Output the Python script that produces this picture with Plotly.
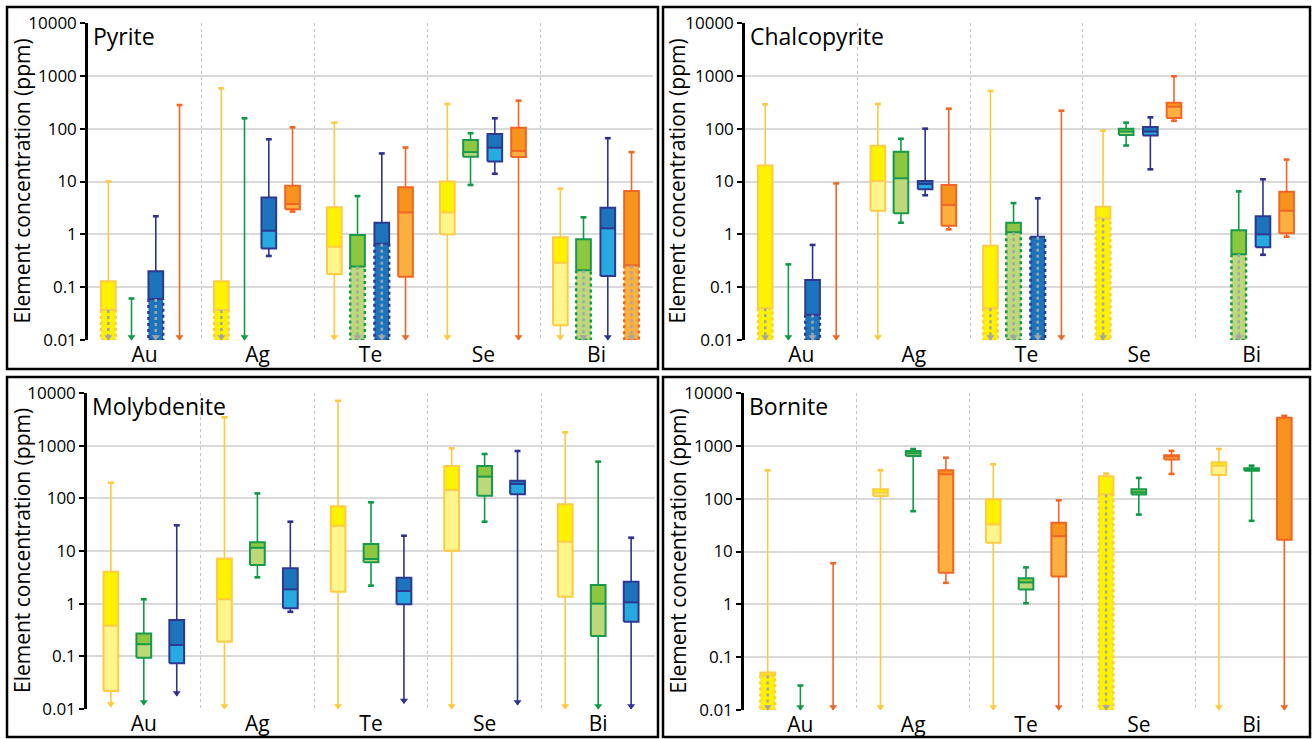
import plotly.graph_objects as go

# ---------------- data ----------------
ELEMENTS = ["Au", "Ag", "Te", "Se", "Bi"]
TICK_VALS = [0.01, 0.1, 1, 10, 100, 1000, 10000]
TICK_TEXT = ["0.01", "0.1", "1", "10", "100", "1000", "10000"]
MINERALS = ["Pyrite", "Chalcopyrite", "Molybdenite", "Bornite"]
Y_TITLE = "Element concentration (ppm)"

# series order per panel
PY_SERIES = ["yellow", "green", "blue", "orange"]
CP_SERIES = ["yellow", "green", "blue", "orange"]
MO_SERIES = ["yellow", "green", "blue"]
BN_SERIES = ["yellow", "green", "orange"]

# Pyrite (rows = series, cols = Au, Ag, Te, Se, Bi)
PY_MAX = [[10, 580, 130, 293, 7.3], [0.061, 157, 5.3, 82, 2.1], [2.2, 63, 34, 157, 66], [280, 106, 44, 339, 36]]
PY_Q3 = [[0.13, 0.13, 3.24, 10, 0.88], [None, None, 0.97, 61, 0.81], [0.2, 5.0, 1.66, 79, 3.2], [None, 8.3, 7.8, 104, 6.6]]
PY_MED = [[0.01, 0.01, 0.58, 2.6, 0.29], [None, None, 0.245, 36, 0.21], [0.01, 1.17, 0.01, 43.6, 1.3], [None, 3.75, 2.6, 38, 0.26]]
PY_Q1 = [[0.01, 0.01, 0.177, 1.0, 0.019], [None, None, 0.01, 29.5, 0.01], [0.01, 0.54, 0.01, 24, 0.163], [None, 2.97, 0.158, 29, 0.01]]
PY_MIN = [[0.01, 0.01, 0.01, 0.01, 0.01], [0.01, 0.01, 0.01, 8.6, 0.01], [0.01, 0.39, 0.01, 14, 0.01], [0.01, 2.7, 0.01, 0.01, 0.01]]
PY_DL = [[0.037, 0.037, None, None, None], [None, None, 0.245, None, 0.21], [0.06, None, 0.66, None, None], [None, None, None, None, 0.26]]

# Chalcopyrite
CP_MAX = [[289, 293, 517, 92, None], [0.27, 64.5, 3.9, 130, 6.5], [0.63, 100, 4.8, 164, 11], [9.2, 239, 219, 980, 26]]
CP_Q3 = [[20, 47.6, 0.61, 3.33, None], [None, 36.6, 1.66, 100, 1.2], [0.136, 10.2, 0.93, 107, 2.2], [None, 8.6, None, 310, 6.4]]
CP_MED = [[0.01, 10.2, 0.01, 0.01, None], [None, 11.5, 1.09, 88, 0.42], [0.01, 9.0, 0.01, 88, 1.0], [None, 3.6, None, 260, 2.8]]
CP_Q1 = [[0.01, 2.8, 0.01, 0.01, None], [None, 2.5, 0.01, 76, 0.01], [0.01, 7.1, 0.01, 74, 0.57], [None, 1.46, None, 159, 1.05]]
CP_MIN = [[0.01, 0.01, 0.01, 0.01, None], [0.01, 1.66, 0.01, 48, 0.01], [0.01, 5.5, 0.01, 17, 0.41], [0.01, 1.24, 0.01, 141, 0.9]]
CP_DL = [[0.04, None, 0.04, 2.0, None], [None, None, 1.09, None, 0.42], [0.03, None, 0.9, None, None], [None, None, None, None, None]]

# Molybdenite
MO_MAX = [[198, 3450, 7100, 890, 1790], [1.21, 124, 84, 695, 497], [30.8, 36, 19.5, 792, 17.9]]
MO_Q3 = [[4.05, 7.2, 71, 411, 77], [0.27, 14.6, 13.6, 411, 2.26], [0.49, 4.7, 3.1, 216, 2.6]]
MO_MED = [[0.38, 1.21, 30, 144, 15], [0.17, 11.5, 7.05, 258, 1.0], [0.164, 1.87, 1.74, 187, 1.06]]
MO_Q1 = [[0.022, 0.19, 1.69, 10.1, 1.36], [0.094, 5.4, 6.1, 112, 0.243], [0.074, 0.82, 0.98, 119, 0.455]]
MO_MIN = [[0.011, 0.01, 0.01, 0.01, 0.01], [0.012, 3.16, 2.2, 36, 0.01], [0.0177, 0.7, 0.0128, 0.012, 0.01]]
MO_DL = [[None] * 5, [None] * 5, [None] * 5]

# Bornite
BN_MAX = [[345, 345, 449, 298, 870], [0.029, 870, 5.0, 247, 421], [6.0, 596, 93, 803, 3700]]
BN_Q3 = [[0.051, 150, 97, 265, 487], [None, 800, 3.1, 150, 376], [None, 345, 35, 665, 3400]]
BN_MED = [[0.01, 130, 32.6, 0.01, 421], [None, 720, 2.6, 132, 360], [None, 290, 19.5, 630, 16.7]]
BN_Q1 = [[0.01, 112, 14.6, 0.01, 280], [None, 640, 1.9, 120, 338], [None, 3.95, 3.36, 550, 16.7]]
BN_MIN = [[0.01, 0.01, 0.01, 0.01, 0.01], [0.01, 58, 1.05, 50, 38], [0.01, 2.55, 0.01, 294, 0.01]]
BN_DL = [[0.045, None, None, 120, None], [None] * 5, [None] * 5]

# ---------------- style ----------------
PALETTE = {
    "yellow": dict(wh="#FFC93C", bd="#FFCB45", up="#FFF200", lo="#FFF58A"),
    "green": dict(wh="#0E9A47", bd="#179A4A", up="#8DC63F", lo="#BCD879"),
    "blue": dict(wh="#2E3192", bd="#2B3990", up="#1C75BC", lo="#27AAE1"),
    "orange": dict(wh="#F26522", bd="#F26522", up="#F7941D", lo="#FBB040"),
}
GRAY = "#A3A5A8"
OFFS = {4: [-0.32, -0.115, 0.10, 0.31], 3: [-0.29, 0.0, 0.29]}
BW = 0.065      # box half width (category units)
CAP = 0.026     # cap half width
ARROW_LIFT = 10 ** 0.055
FONT = "Open Sans"

# panel geometry (pixels of the 1312x739 page)
W, H = 1312, 739
PLOT_PX = [(88, 653, 23, 340), (745, 1308, 23, 340), (87, 655, 393, 709), (744, 1308, 393, 710)]
BORDER_PX = [(7, 658, 7, 369), (663, 1310, 7, 369), (7, 658, 377, 737), (663, 1310, 377, 737)]
YTITLE_X = [22, 677, 22, 677]

PANELS = [
    (PY_SERIES, PY_MAX, PY_Q3, PY_MED, PY_Q1, PY_MIN, PY_DL),
    (CP_SERIES, CP_MAX, CP_Q3, CP_MED, CP_Q1, CP_MIN, CP_DL),
    (MO_SERIES, MO_MAX, MO_Q3, MO_MED, MO_Q1, MO_MIN, MO_DL),
    (BN_SERIES, BN_MAX, BN_Q3, BN_MED, BN_Q1, BN_MIN, BN_DL),
]

fig = go.Figure()


def rect(xs, ys, x0, x1, y0, y1):
    xs += [x0, x1, x1, x0, x0, None]
    ys += [y0, y0, y1, y1, y0, None]


for k, (series, MX, Q3, MD, Q1, MN, DL) in enumerate(PANELS, start=1):
    xa = "x" if k == 1 else f"x{k}"
    ya = "y" if k == 1 else f"y{k}"
    offs = OFFS[len(series)]
    for s, key in enumerate(series):
        c = PALETTE[key]
        wx, wy, cx, cy, ax_, ay_ = [], [], [], [], [], []
        lox, loy, upx, upy = [], [], [], []
        sx, sy, dx, dy, mx, my = [], [], [], [], [], []
        gx, gy, gax, gay = [], [], [], []
        for e in range(len(ELEMENTS)):
            if MX[s][e] is None:
                continue
            x = e + offs[s]
            vmin, vmax = MN[s][e], MX[s][e]
            wx += [x, x, None]
            wy += [vmin, vmax, None]
            cx += [x - CAP, x + CAP, None]
            cy += [vmax, vmax, None]
            if vmin < 0.02:
                ax_.append(x)
                ay_.append(vmin * ARROW_LIFT)
            else:
                cx += [x - CAP, x + CAP, None]
                cy += [vmin, vmin, None]
            q3 = Q3[s][e]
            if q3 is None:
                continue
            med, q1, dl = MD[s][e], Q1[s][e], DL[s][e]
            x0, x1 = x - BW, x + BW
            if med > q1:
                rect(lox, loy, x0, x1, q1, med)
            rect(upx, upy, x0, x1, med, q3)
            solid_lo = dl if dl is not None else q1
            rect(sx, sy, x0, x1, solid_lo, q3)
            if dl is not None:
                dx += [x0, x0, x1, x1, None]
                dy += [dl, q1, q1, dl, None]
                gx += [x, x, None]
                gy += [dl, q1, None]
                gax.append(x)
                gay.append(q1 * ARROW_LIFT)
            if q1 < med < q3 and med != dl:
                mx += [x0, x1, None]
                my += [med, med, None]

        common = dict(xaxis=xa, yaxis=ya, hoverinfo="skip", showlegend=False)
        fig.add_trace(go.Scatter(x=wx, y=wy, mode="lines", line=dict(color=c["wh"], width=1.6), **common))
        fig.add_trace(go.Scatter(x=cx, y=cy, mode="lines", line=dict(color=c["wh"], width=2.6), **common))
        if ax_:
            fig.add_trace(go.Scatter(x=ax_, y=ay_, mode="markers", cliponaxis=False,
                                     marker=dict(symbol="triangle-down", size=7, color=c["wh"]), **common))
        if lox:
            fig.add_trace(go.Scatter(x=lox, y=loy, mode="lines", fill="toself", fillcolor=c["lo"],
                                     line=dict(width=0, color=c["lo"]), **common))
        if upx:
            fig.add_trace(go.Scatter(x=upx, y=upy, mode="lines", fill="toself", fillcolor=c["up"],
                                     line=dict(width=0, color=c["up"]), **common))
        if sx:
            fig.add_trace(go.Scatter(x=sx, y=sy, mode="lines", line=dict(color=c["bd"], width=2), **common))
        if mx:
            fig.add_trace(go.Scatter(x=mx, y=my, mode="lines", line=dict(color=c["bd"], width=2), **common))
        if dx:
            fig.add_trace(go.Scatter(x=dx, y=dy, mode="lines", line=dict(color=c["bd"], width=2.5, dash="dot"), **common))
            fig.add_trace(go.Scatter(x=gx, y=gy, mode="lines", line=dict(color=GRAY, width=2.5, dash="dot"), **common))
            fig.add_trace(go.Scatter(x=gax, y=gay, mode="markers", cliponaxis=False,
                                     marker=dict(symbol="triangle-down", size=7, color=GRAY), **common))

layout = dict(width=W, height=H, autosize=False, margin=dict(l=0, r=0, t=0, b=0, pad=0),
              paper_bgcolor="white", plot_bgcolor="white", showlegend=False,
              font=dict(family=FONT, color="black"))
shapes, annotations = [], []
for k in range(1, 5):
    px0, px1, py0, py1 = PLOT_PX[k - 1]
    xname = "xaxis" if k == 1 else f"xaxis{k}"
    yname = "yaxis" if k == 1 else f"yaxis{k}"
    ya = "y" if k == 1 else f"y{k}"
    xa = "x" if k == 1 else f"x{k}"
    layout[xname] = dict(
        domain=[px0 / W, px1 / W], anchor=ya, range=[-0.5, len(ELEMENTS) - 0.5], automargin=False,
        tickmode="array", tickvals=list(range(len(ELEMENTS))), ticktext=ELEMENTS,
        showgrid=False, zeroline=False, showline=False, ticks="",
        tickfont=dict(size=21, family=FONT, color="black"),
        minor=dict(tickmode="array", tickvals=[i + 0.5 for i in range(len(ELEMENTS) - 1)],
                   showgrid=True, gridcolor="#C4C4C4", griddash="dot", gridwidth=1, ticks=""),
    )
    layout[yname] = dict(
        domain=[1 - py1 / H, 1 - py0 / H], anchor=xa, type="log", range=[-2, 4], automargin=False,
        tickmode="array", tickvals=TICK_VALS, ticktext=TICK_TEXT,
        showgrid=True, gridcolor="#D9D9D9", gridwidth=1.5, zeroline=False,
        showline=True, linecolor="black", linewidth=2.5,
        ticks="outside", ticklen=5, tickwidth=1.5, tickcolor="black",
        tickfont=dict(size=17, family=FONT, color="black"),
    )
    bx0, bx1, by0, by1 = BORDER_PX[k - 1]
    shapes.append(dict(type="rect", xref="paper", yref="paper", x0=bx0 / W, x1=bx1 / W,
                       y0=1 - by1 / H, y1=1 - by0 / H, line=dict(color="black", width=2.5)))
    annotations.append(dict(text=MINERALS[k - 1], xref=f"{xa} domain", yref=f"{ya} domain",
                            x=0.006, y=1.0, yshift=5, xanchor="left", yanchor="top", showarrow=False,
                            font=dict(size=23, family=FONT, color="black")))
    annotations.append(dict(text=Y_TITLE, xref="paper", yref=f"{ya} domain", x=YTITLE_X[k - 1] / W, y=0.5,
                            xanchor="center", yanchor="middle", textangle=-90, showarrow=False,
                            font=dict(size=21, family=FONT, color="black")))
layout["shapes"] = shapes
layout["annotations"] = annotations
fig.update_layout(**layout)
fig.write_html("out.html")
